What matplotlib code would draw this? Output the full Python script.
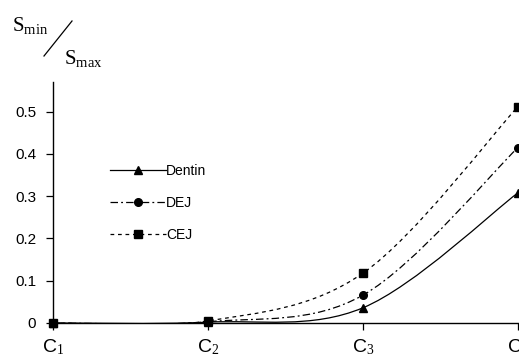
import matplotlib
matplotlib.use("Agg")
import matplotlib.pyplot as plt
from matplotlib.path import Path
from matplotlib.patches import PathPatch
from matplotlib.lines import Line2D

stages = [1, 2, 3, 4]
stage_labels = ["C$_1$", "C$_2$", "C$_3$", "C$_4$"]
dentin = [0.0, 0.002, 0.036, 0.308]
dej = [0.0, 0.003, 0.066, 0.415]
cej = [0.0, 0.005, 0.118, 0.512]

plt.rcParams["font.family"] = ["Liberation Sans", "DejaVu Sans"]
plt.rcParams["mathtext.fontset"] = "custom"
plt.rcParams["mathtext.rm"] = "Liberation Serif"
plt.rcParams["mathtext.it"] = "Liberation Serif"

def smooth_path(xs, ys):
    # excel-style smoothed line: cubic bezier between points
    pts = list(zip(xs, ys))
    n = len(pts)
    verts = [pts[0]]
    codes = [Path.MOVETO]
    for i in range(n - 1):
        p0 = pts[i - 1] if i > 0 else pts[i]
        p1 = pts[i]
        p2 = pts[i + 1]
        p3 = pts[i + 2] if i + 2 < n else pts[i + 1]
        c1 = (p1[0] + (p2[0] - p0[0]) / 6, p1[1] + (p2[1] - p0[1]) / 6)
        c2 = (p2[0] - (p3[0] - p1[0]) / 6, p2[1] - (p3[1] - p1[1]) / 6)
        verts += [c1, c2, p2]
        codes += [Path.CURVE4] * 3
    return Path(verts, codes)

fig = plt.figure(figsize=(5.19, 3.64), dpi=100)
ax = fig.add_axes([53 / 519, 41 / 364, 465 / 519, 241 / 364])

series = [
    ("Dentin", dentin, "^", None),
    ("DEJ", dej, "o", (6, 2.5, 1.5, 2.5)),
    ("CEJ", cej, "s", (3, 3)),
]
handles = []
for name, vals, mk, dash in series:
    patch = PathPatch(smooth_path(stages, vals), facecolor="none", edgecolor="black", lw=0.9)
    if dash is not None:
        patch.set_linestyle((0, dash))
    ax.add_patch(patch)
    ax.plot(stages, vals, linestyle="none", marker=mk, color="black", ms=5.5, clip_on=False)
    h = Line2D([], [], color="black", lw=0.9, marker=mk, ms=5.5)
    if dash is not None:
        h.set_dashes(dash)
    handles.append(h)

ax.set_xlim(1, 4)
ax.set_ylim(0, 0.57)
ax.set_yticks([0, 0.1, 0.2, 0.3, 0.4, 0.5])
ax.set_yticklabels(["0", "0.1", "0.2", "0.3", "0.4", "0.5"], fontsize=11)
ax.set_xticks(stages)
ax.set_xticklabels(stage_labels, fontsize=14)
ax.tick_params(axis="both", direction="out", length=5, width=0.9, color="black")
ax.tick_params(axis="y", pad=7)
ax.tick_params(axis="x", pad=5)
for s in ["top", "right"]:
    ax.spines[s].set_visible(False)
for s in ["left", "bottom"]:
    ax.spines[s].set_linewidth(1.0)

ax.legend(handles, ["Dentin", "DEJ", "CEJ"], loc="upper left",
          bbox_to_anchor=(0.123, 0.66), frameon=False, fontsize=10,
          borderpad=0, borderaxespad=0,
          handlelength=4.0, handletextpad=0.0, labelspacing=1.3)

fig.text(12 / 519, 1 - 31 / 364, r"$\mathrm{S}_{\mathrm{min}}$", fontsize=15, va="baseline")
fig.add_artist(Line2D([44 / 519, 72 / 519], [1 - 56 / 364, 1 - 21 / 364],
                      color="black", lw=0.9, transform=fig.transFigure))
fig.text(64 / 519, 1 - 64 / 364, r"$\mathrm{S}_{\mathrm{max}}$", fontsize=15, va="baseline")

fig.savefig("out.png", dpi=100)
